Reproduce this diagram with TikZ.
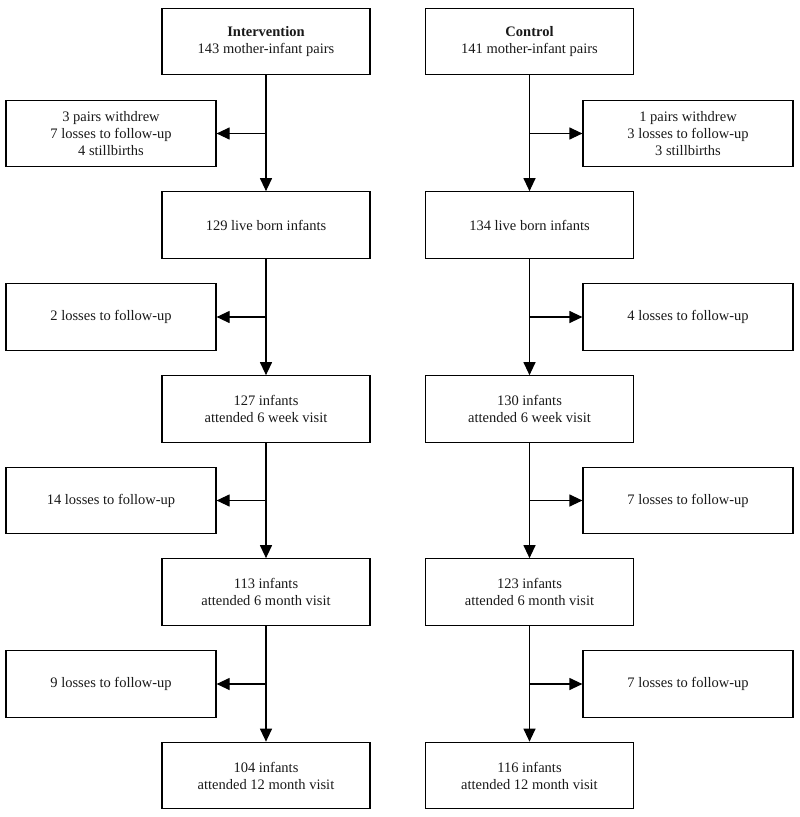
\documentclass[tikz,border=0pt]{standalone}
\usepackage{fontspec}
\setmainfont{Liberation Serif}
\usetikzlibrary{arrows.meta}
\begin{document}
\begin{tikzpicture}[x=1pt,y=-1pt,
  box/.style={draw=black, line width=1.2pt, align=center, inner sep=0pt,
    font=\fontsize{14.5}{17}\selectfont, text=black!90},
  mainbox/.style={box, minimum width=208pt, minimum height=66.5pt},
  sidebox/.style={box, minimum width=210pt, minimum height=66.5pt},
  arr/.style={draw=black, line width=1.2pt, -{Triangle[length=13pt,width=12pt]}}
]
\useasboundingbox (0,0) rectangle (800,817);
% Intervention column
\node[mainbox] (l1) at (266,41.5) {\textbf{Intervention}\\143 mother-infant pairs};
\node[mainbox] (l2) at (266,225) {129 live born infants};
\node[mainbox] (l3) at (266,409) {127 infants\\attended 6 week visit};
\node[mainbox] (l4) at (266,592) {113 infants\\attended 6 month visit};
\node[mainbox] (l5) at (266,775.5) {104 infants\\attended 12 month visit};
\node[sidebox] (ls1) at (111,133.5) {3 pairs withdrew\\7 losses to follow-up\\4 stillbirths};
\node[sidebox] (ls2) at (111,317) {2 losses to follow-up};
\node[sidebox] (ls3) at (111,500.5) {14 losses to follow-up};
\node[sidebox] (ls4) at (111,684) {9 losses to follow-up};
% Control column
\node[mainbox] (r1) at (529.5,41.5) {\textbf{Control}\\141 mother-infant pairs};
\node[mainbox] (r2) at (529.5,225) {134 live born infants};
\node[mainbox] (r3) at (529.5,409) {130 infants\\attended 6 week visit};
\node[mainbox] (r4) at (529.5,592) {123 infants\\attended 6 month visit};
\node[mainbox] (r5) at (529.5,775.5) {116 infants\\attended 12 month visit};
\node[sidebox] (rs1) at (688,133.5) {1 pairs withdrew\\3 losses to follow-up\\3 stillbirths};
\node[sidebox] (rs2) at (688,317) {4 losses to follow-up};
\node[sidebox] (rs3) at (688,500.5) {7 losses to follow-up};
\node[sidebox] (rs4) at (688,684) {7 losses to follow-up};
% connectors
\foreach \a/\b/\s in {1/2/1,2/3/2,3/4/3,4/5/4}{
  \draw[arr] (l\a) -- (l\b);
  \draw[arr] (l\a.south |- ls\s) -- (ls\s.east);
  \draw[arr] (r\a) -- (r\b);
  \draw[arr] (r\a.south |- rs\s) -- (rs\s.west);
}
\end{tikzpicture}
\end{document}
